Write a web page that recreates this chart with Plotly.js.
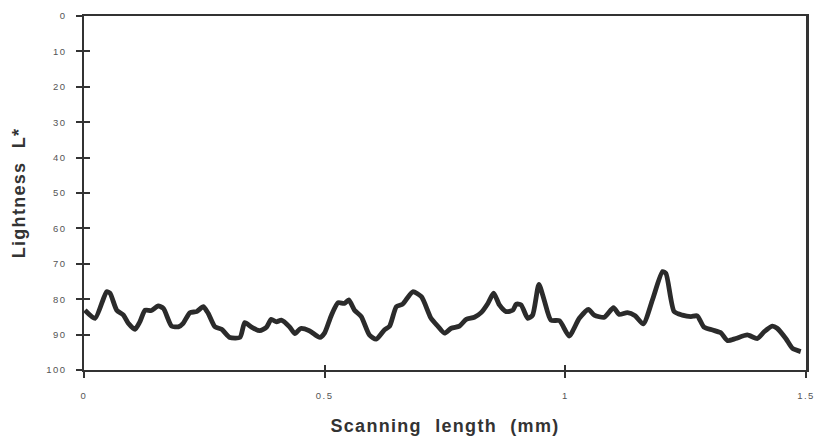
<!DOCTYPE html>
<html>
<head>
<meta charset="utf-8">
<script src="https://cdn.plot.ly/plotly-3.0.1.min.js"></script>
<style>
html,body{margin:0;padding:0;background:#fff;}
#chart{width:819px;height:438px;}
.xtick text,.ytick text{letter-spacing:1.5px;}
.xtitle,.ytitle{letter-spacing:1.3px;word-spacing:7px;}
</style>
</head>
<body>
<div id="chart"></div>
<script>
const scanLength = [0.002,0.023,0.047,0.054,0.068,0.082,0.092,0.106,0.116,0.127,0.140,0.154,0.165,0.182,0.196,0.206,0.220,0.234,0.248,0.258,0.272,0.286,0.303,0.324,0.334,0.348,0.365,0.379,0.389,0.400,0.410,0.427,0.438,0.450,0.468,0.490,0.500,0.514,0.528,0.541,0.550,0.562,0.576,0.593,0.607,0.624,0.635,0.649,0.662,0.683,0.701,0.721,0.735,0.749,0.763,0.780,0.794,0.811,0.825,0.839,0.851,0.863,0.877,0.891,0.898,0.908,0.922,0.932,0.945,0.956,0.970,0.988,1.008,1.029,1.048,1.060,1.081,1.100,1.112,1.129,1.145,1.162,1.181,1.202,1.209,1.226,1.243,1.261,1.274,1.288,1.306,1.323,1.337,1.354,1.378,1.399,1.413,1.430,1.440,1.458,1.472,1.489];
const lightness = [83.1,85.4,77.9,78.3,83.1,84.5,86.8,88.5,86.4,83.1,83.2,81.9,82.6,87.6,87.8,86.8,83.8,83.5,82.1,84.0,87.8,88.5,90.8,90.8,86.6,87.9,88.9,87.9,85.7,86.4,85.9,87.8,89.7,88.3,88.9,90.8,89.5,84.5,81.0,81.2,80.2,83.1,84.9,90.1,91.3,88.7,87.6,82.1,81.4,77.9,79.3,85.4,87.6,89.6,88.2,87.6,85.7,85.1,83.8,81.2,78.3,81.6,83.5,83.1,81.4,81.6,85.4,84.5,75.8,80.2,85.9,86.1,90.4,85.4,82.9,84.5,85.1,82.4,84.3,83.8,84.7,87.0,80.2,72.2,72.7,83.5,84.5,84.9,84.7,87.9,88.7,89.5,91.7,91.1,90.1,91.1,89.2,87.6,88.2,91.1,93.9,94.8];
const xTickVals = [0,0.5,1,1.5];
const xTickText = ["0","0.5","1","1.5"];
const yTickVals = [0,10,20,30,40,50,60,70,80,90,100];

const axisColor = '#333';
const tickFont = {family:'Liberation Sans, Arial, sans-serif', size:9.5, color:'#555'};
const titleFont = {family:'Liberation Sans, Arial, sans-serif', size:18, color:'#333', weight:'bold'};

const traces = [
  {x:scanLength, y:lightness, type:'scatter', mode:'lines',
   line:{color:'#2b2b2b', width:4.8, shape:'spline', smoothing:0.6}, hoverinfo:'skip', showlegend:false},
  {x:scanLength, y:lightness, xaxis:'x2', yaxis:'y2', type:'scatter', mode:'lines',
   line:{width:0, color:'rgba(0,0,0,0)'}, hoverinfo:'skip', showlegend:false}
];

const layout = {
  width:819, height:438,
  margin:{l:84, r:13, t:16, b:68},
  paper_bgcolor:'#fff', plot_bgcolor:'#fff',
  showlegend:false,
  xaxis:{range:[0,1.5], tickvals:xTickVals, ticktext:xTickText, ticks:'outside', ticklen:6, tickwidth:2, tickcolor:axisColor,
    showline:true, linecolor:axisColor, linewidth:2, mirror:true, showgrid:false, zeroline:false,
    tickfont:tickFont, ticklabelstandoff:10,
    title:{text:'Scanning length (mm)', font:titleFont, standoff:19}},
  yaxis:{range:[100,0], tickvals:yTickVals, ticks:'outside', ticklen:6, tickwidth:2, tickcolor:axisColor,
    showline:true, linecolor:axisColor, linewidth:2.5, mirror:true, showgrid:false, zeroline:false,
    tickfont:tickFont, ticklabelstandoff:7,
    title:{text:'Lightness L*', font:titleFont, standoff:16}},
  xaxis2:{range:[0,1.5], overlaying:'x', anchor:'y2', tickvals:xTickVals, ticks:'inside', ticklen:5, tickwidth:2, tickcolor:axisColor,
    showticklabels:false, showline:false, showgrid:false, zeroline:false},
  yaxis2:{range:[100,0], overlaying:'y', anchor:'x2', tickvals:yTickVals, ticks:'inside', ticklen:6, tickwidth:2, tickcolor:axisColor,
    showticklabels:false, showline:false, showgrid:false, zeroline:false}
};

Plotly.newPlot('chart', traces, layout, {staticPlot:true, displayModeBar:false});
</script>
</body>
</html>
